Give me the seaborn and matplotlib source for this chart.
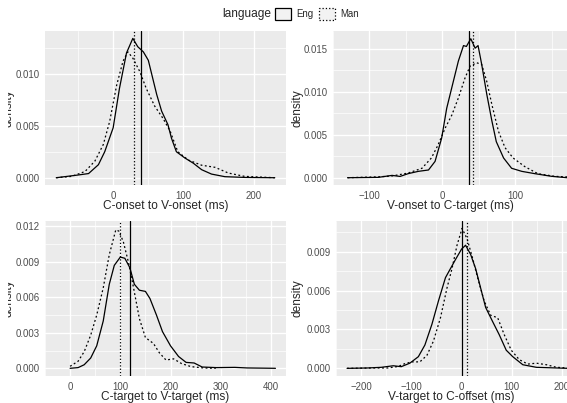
import pandas as pd
import numpy as np
import matplotlib
matplotlib.use("Agg")
import matplotlib.pyplot as plt
from matplotlib.patches import Patch
from matplotlib.transforms import Bbox, TransformedBbox
import seaborn as sns

# ggplot-ish look
sns.set_style("darkgrid", {"axes.facecolor": "#EBEBEB", "grid.color": "white"})
plt.rcParams["font.family"] = ["Liberation Sans", "DejaVu Sans"]

# --- Werte --------------------------------------------------------------
# C-onset to V-onset
cv_eng_x = [-81, -50, -35, -21, -12, 0, 9, 19, 28, 35, 43, 50, 54, 62, 69, 78, 83, 90, 102, 114, 126, 140, 159, 187, 230]
cv_eng_y = [0.0, 0.00026, 0.0004, 0.00125, 0.0025, 0.0048, 0.0086, 0.012, 0.0134, 0.0126, 0.0121, 0.0113, 0.0102, 0.008,
            0.0064, 0.0051, 0.0038, 0.0025, 0.0019, 0.0014, 0.00077, 0.00035, 0.0001, 0.00003, 0.0]
cv_man_x = [-81, -59, -40, -26, -14, -5, 5, 14, 21, 28, 38, 47, 59, 71, 81, 92, 107, 126, 145, 164, 187, 230]
cv_man_y = [0.0, 0.00013, 0.0006, 0.0016, 0.0032, 0.0054, 0.0089, 0.0112, 0.0121, 0.0115, 0.0102, 0.0086, 0.0069,
            0.0057, 0.0045, 0.0025, 0.0017, 0.0012, 0.001, 0.00045, 0.00013, 0.0]

# V-onset to C-target
vc_eng_x = [-130, -88, -69, -58, -47, -33, -19, -10, -1, 6, 15, 22, 29, 33, 39, 45, 49, 54, 61, 68, 74, 84, 95, 109, 127, 150, 171]
vc_eng_y = [0.0, 0.00004, 0.00027, 0.00015, 0.00047, 0.00074, 0.0009, 0.0019, 0.0046, 0.0081, 0.0112, 0.0136, 0.0154,
            0.0153, 0.0162, 0.0151, 0.0154, 0.0132, 0.0097, 0.0066, 0.0042, 0.0023, 0.0011, 0.00074, 0.00047, 0.00016, 0.0]
vc_man_x = [-130, -88, -69, -47, -28, -15, -6, 4, 13, 22, 31, 38, 47, 54, 61, 68, 77, 86, 97, 113, 131, 154, 175]
vc_man_y = [0.0, 0.0001, 0.0002, 0.00054, 0.0011, 0.0023, 0.0038, 0.0058, 0.0073, 0.0093, 0.0116, 0.013, 0.0134,
            0.0132, 0.0112, 0.0085, 0.0054, 0.0035, 0.0023, 0.0013, 0.00047, 0.00016, 0.00008]

# C-target to V-target
ct_eng_x = [0, 16, 28, 41, 53, 66, 78, 88, 100, 109, 119, 128, 138, 150, 159, 172, 184, 200, 216, 231, 247, 263, 291, 328, 353, 409]
ct_eng_y = [0.0, 0.00006, 0.0003, 0.00087, 0.0019, 0.004, 0.0071, 0.0087, 0.0094, 0.0093, 0.0085, 0.0071, 0.0066, 0.0065,
            0.0059, 0.0045, 0.0031, 0.0019, 0.001, 0.0005, 0.00045, 0.00011, 0.00006, 0.00008, 0.00003, 0.0]
ct_man_x = [0, 16, 28, 41, 53, 66, 78, 91, 97, 106, 116, 125, 138, 150, 166, 178, 191, 206, 222, 241, 266, 290]
ct_man_y = [0.00017, 0.0006, 0.0014, 0.0028, 0.0045, 0.0068, 0.0096, 0.0117, 0.0116, 0.0107, 0.009, 0.0071, 0.0042,
            0.0026, 0.0021, 0.0013, 0.0007, 0.0008, 0.0004, 0.00014, 0.00003, 0.0]

# V-target to C-offset
vt_eng_x = [-228, -187, -160, -136, -120, -103, -86, -73, -59, -46, -32, -22, -12, 0, 8, 18, 28, 38, 48, 62, 75, 89, 102, 122, 149, 189, 213]
vt_eng_y = [0.0, 0.00003, 0.00008, 0.0002, 0.00013, 0.0004, 0.0009, 0.0018, 0.0034, 0.0052, 0.007, 0.0077, 0.0084,
            0.0092, 0.0095, 0.0088, 0.0077, 0.0062, 0.0047, 0.0036, 0.0026, 0.0014, 0.0009, 0.00028, 0.00008, 0.00003, 0.0]
vt_man_x = [-228, -173, -146, -126, -113, -99, -83, -69, -56, -42, -29, -19, -9, 1, 11, 22, 32, 45, 58, 72, 85, 99, 115, 132, 149, 169, 189, 213]
vt_man_y = [0.0, 0.00003, 0.00003, 0.00015, 0.00036, 0.0005, 0.0005, 0.001, 0.0021, 0.0039, 0.0062, 0.0077, 0.0095,
            0.0108, 0.01, 0.0085, 0.007, 0.0052, 0.0041, 0.0039, 0.0026, 0.0014, 0.00067, 0.00033, 0.0004, 0.00028,
            0.00008, 0.00003]

# Mittelwerte (vertikale Linien)
cv_means = {"Eng": 39, "Man": 29}
vc_means = {"Eng": 37, "Man": 42}
ct_means = {"Eng": 120, "Man": 100}
vt_means = {"Eng": 0, "Man": 10}

W, H = 567, 403
fig = plt.figure(figsize=(W / 100, H / 100), dpi=100)


def px_axes(left, right, top, bottom):
    return fig.add_axes([left / W, 1 - bottom / H, (right - left) / W, (bottom - top) / H])


def make_df(ex, ey, mx, my):
    eng = pd.DataFrame({"ms": ex, "density": ey, "language": "Eng"})
    man = pd.DataFrame({"ms": mx, "density": my, "language": "Man"})
    return pd.concat([eng, man], ignore_index=True)


panels = [
    # data, means, xlabel, ax box (px), xlim, ylim, xticks, yticks
    (make_df(cv_eng_x, cv_eng_y, cv_man_x, cv_man_y), cv_means, "C-onset to V-onset (ms)",
     (45, 286, 31, 185), (-97, 246), (-0.0007, 0.01411), [0, 100, 200], [0, 0.005, 0.010]),
    (make_df(vc_eng_x, vc_eng_y, vc_man_x, vc_man_y), vc_means, "V-onset to C-target (ms)",
     (333, 567, 31, 185), (-149, 171), (-0.00085, 0.0171), [-100, 0, 100], [0, 0.005, 0.010, 0.015]),
    (make_df(ct_eng_x, ct_eng_y, ct_man_x, ct_man_y), ct_means, "C-target to V-target (ms)",
     (45, 286, 221, 376), (-22, 430), (-0.00065, 0.01245), [0, 100, 200, 300, 400],
     [0, 0.003, 0.006, 0.009, 0.012]),
    (make_df(vt_eng_x, vt_eng_y, vt_man_x, vt_man_y), vt_means, "V-target to C-offset (ms)",
     (336, 567, 221, 376), (-250, 210), (-0.00059, 0.01137), [-200, -100, 0, 100, 200],
     [0, 0.003, 0.006, 0.009]),
]

dash_map = {"Eng": "", "Man": (1.5, 2)}
ls_map = {"Eng": "-", "Man": ":"}

for i, (df, means, xlab, box, xlim, ylim, xt, yt) in enumerate(panels):
    ax = px_axes(*box)
    sns.lineplot(data=df, x="ms", y="density", style="language", dashes=dash_map,
                 color="black", lw=0.9, estimator=None, legend=False, ax=ax)
    for lang, v in means.items():
        ax.axvline(v, color="black", lw=0.9, ls=ls_map[lang])
    ax.set_xlim(*xlim)
    ax.set_ylim(*ylim)
    ax.set_xticks(xt)
    ax.set_yticks(yt)
    ax.set_yticklabels([f"{v:.3f}" for v in yt])
    # Nebengitter in der Mitte
    xs = np.diff(xt)[0]
    ys = np.diff(yt)[0]
    ax.set_xticks(np.arange(xt[0] - xs / 2, xlim[1], xs), minor=True)
    ax.set_yticks(np.arange(yt[0] + ys / 2, ylim[1], ys), minor=True)
    ax.grid(which="major", color="white", lw=1.0)
    ax.grid(which="minor", color="white", lw=0.5)
    ax.tick_params(which="major", length=3, width=0.8, color="#333333", labelcolor="#4D4D4D",
                   labelsize=6.9, pad=1.0)
    ax.tick_params(which="minor", length=0)
    for s in ax.spines.values():
        s.set_visible(False)
    ax.set_xlabel(xlab, fontsize=8.6, labelpad=-0.5)
    ax.set_ylabel("")
    yc = 1 - (box[2] + box[3]) / 2 / H
    if box[0] > 300:
        fig.text(298 / W, yc, "density", rotation=90, ha="center", va="center", fontsize=8.6)
    else:
        # links ist die Beschriftung halb abgeschnitten
        t = fig.text(8.5 / W, yc, "density", rotation=90, ha="center", va="center", fontsize=8.6)
        t.set_clip_box(TransformedBbox(Bbox.from_extents(8 / W, 0, 1, 1), fig.transFigure))
        t.set_clip_on(True)

# Legende oben
fig.text(247 / W, 1 - 14 / H, "language", ha="center", va="center", fontsize=8.6)
handles = [Patch(facecolor="#F2F2F2", edgecolor="black", lw=0.9, ls="-", label="Eng"),
           Patch(facecolor="#F2F2F2", edgecolor="black", lw=0.9, ls=":", label="Man")]
fig.legend(handles=handles, loc="center", bbox_to_anchor=(317 / W, 1 - 14 / H), ncol=2,
           frameon=False, fontsize=6.9, handlelength=1.7, handleheight=1.7,
           handletextpad=0.5, columnspacing=0.6, borderpad=0, borderaxespad=0)

fig.savefig("out.png", dpi=100, facecolor="white")
